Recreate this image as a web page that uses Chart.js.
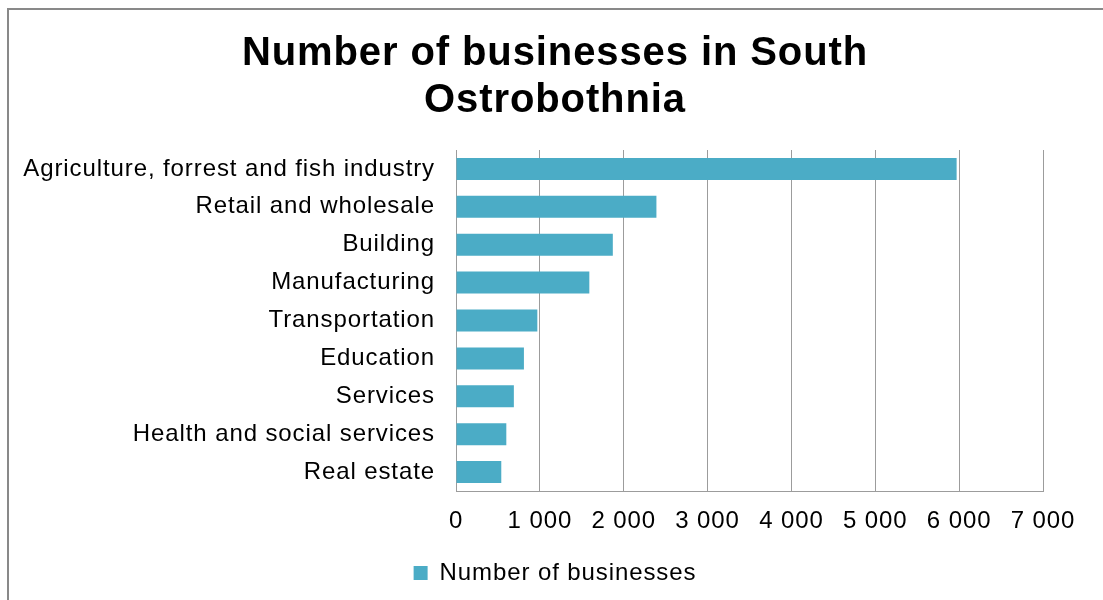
<!DOCTYPE html>
<html>
<head>
<meta charset="utf-8">
<title>Number of businesses in South Ostrobothnia</title>
<script src="https://cdn.jsdelivr.net/npm/chart.js@4.4.0/dist/chart.umd.min.js"></script>
<style>
    html, body { margin: 0; padding: 0; background: #fff; overflow: hidden; }
    #wrap { position: relative; width: 1103px; height: 600px; }
    #frame {
        position: absolute; left: 7px; top: 8px; width: 1200px; height: 700px;
        border-top: 2px solid #898989; border-left: 2px solid #898989;
        pointer-events: none;
    }
</style>
</head>
<body>
<div id="wrap">
    <canvas id="business-chart" width="1103" height="600"></canvas>
    <div id="frame"></div>
</div>
<script>
const categories = [
    'Agriculture, forrest and fish industry',
    'Retail and wholesale',
    'Building',
    'Manufacturing',
    'Transportation',
    'Education',
    'Services',
    'Health and social services',
    'Real estate'
];
const businessCounts = [5970, 2390, 1870, 1590, 970, 810, 690, 600, 540];
const xTickValues = [0, 1000, 2000, 3000, 4000, 5000, 6000, 7000];
const seriesName = 'Number of businesses';
const chartTitle = ['Number of businesses in South', 'Ostrobothnia'];

const font = 'Liberation Sans, Arial, sans-serif';

// "1000" -> "1 000"
function spaced(v) {
    return String(v).replace(/\B(?=(\d{3})+(?!\d))/g, ' ');
}

// slightly looser text spacing, set before measuring and before drawing
const letterSpacingPlugin = {
    id: 'letterSpacing',
    beforeLayout: function (chart) { chart.ctx.letterSpacing = '0.9px'; },
    beforeDraw: function (chart) { chart.ctx.letterSpacing = '0.9px'; }
};

let ctx = document.getElementById('business-chart').getContext('2d');

new Chart(ctx, {
    type: 'bar',
    data: {
        labels: categories,
        datasets: [{
            label: seriesName,
            data: businessCounts,
            backgroundColor: '#4bacc6',
            borderWidth: 0,
            categoryPercentage: 1,
            barPercentage: 0.58
        }]
    },
    plugins: [letterSpacingPlugin],
    options: {
        indexAxis: 'y',
        responsive: false,
        animation: false,
        layout: {
            padding: { top: 10, left: 7, right: 0, bottom: 5 }
        },
        plugins: {
            title: {
                display: true,
                text: chartTitle,
                color: '#000',
                font: { family: font, size: 40, weight: 'bold', lineHeight: 1.175 },
                padding: { top: 20, bottom: 26 }
            },
            legend: {
                position: 'bottom',
                labels: {
                    color: '#000',
                    boxWidth: 14,
                    boxHeight: 14,
                    padding: 10,
                    font: { family: font, size: 24 }
                }
            },
            tooltip: { enabled: false }
        },
        scales: {
            x: {
                min: 0,
                max: 7000,
                afterBuildTicks: function (scale) {
                    scale.ticks = xTickValues.map(v => ({ value: v }));
                },
                afterFit: function (scale) {
                    scale.height = 60;
                    scale.paddingRight = 60;
                },
                grid: { color: '#9c9c9c', lineWidth: 1, drawTicks: false },
                border: { color: '#9c9c9c', width: 1 },
                ticks: {
                    color: '#000',
                    padding: 16,
                    maxRotation: 0,
                    font: { family: font, size: 24 },
                    callback: function (value) { return spaced(value); }
                }
            },
            y: {
                afterFit: function (scale) {
                    scale.width = 449;
                },
                grid: { display: false, drawTicks: false },
                border: { color: '#9c9c9c', width: 1 },
                ticks: {
                    color: '#000',
                    padding: 21,
                    font: { family: font, size: 24 }
                }
            }
        }
    }
});
</script>
</body>
</html>
